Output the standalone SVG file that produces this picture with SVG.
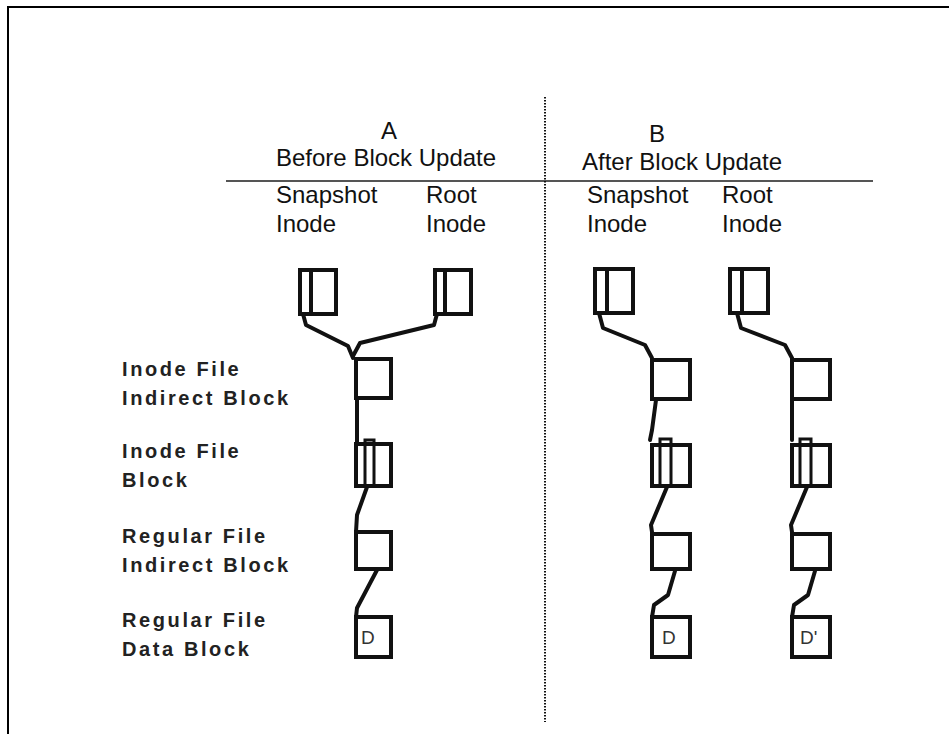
<svg xmlns="http://www.w3.org/2000/svg" width="949" height="734" viewBox="0 0 949 734">
<style>
.hdr{font-family:"Liberation Sans",Arial,sans-serif;font-size:24px;fill:#111}
.lbl{font-family:"Liberation Sans",Arial,sans-serif;font-size:20px;font-weight:bold;letter-spacing:2.6px;fill:#222}
.box{fill:none;stroke:#111;stroke-width:4}
.thin{fill:none;stroke:#111;stroke-width:3}
.con{fill:none;stroke:#111;stroke-width:4;stroke-linejoin:round;stroke-linecap:round}
.d{font-family:"Liberation Sans",Arial,sans-serif;font-size:19px;fill:#333}
</style>
<rect width="949" height="734" fill="#fff"/>
<path d="M8,734 V7 H949" fill="none" stroke="#000" stroke-width="2"/>
<g id="header">
<line x1="226" y1="181" x2="873" y2="181" stroke="#555" stroke-width="2"/>
<line x1="545" y1="97" x2="545" y2="722" stroke="#111" stroke-width="2" stroke-dasharray="1.5 1.5"/>
<text class="hdr" x="389" y="139" text-anchor="middle">A</text>
<text class="hdr" x="276" y="166">Before Block Update</text>
<text class="hdr" x="657" y="142" text-anchor="middle">B</text>
<text class="hdr" x="582" y="170">After Block Update</text>
<text class="hdr" x="276" y="203">Snapshot</text>
<text class="hdr" x="276" y="232">Inode</text>
<text class="hdr" x="426" y="203">Root</text>
<text class="hdr" x="426" y="232">Inode</text>
<text class="hdr" x="587" y="203">Snapshot</text>
<text class="hdr" x="587" y="232">Inode</text>
<text class="hdr" x="722" y="203">Root</text>
<text class="hdr" x="722" y="232">Inode</text>
</g>
<g id="labels">
<text class="lbl" x="122" y="376">Inode File</text>
<text class="lbl" x="122" y="405">Indirect Block</text>
<text class="lbl" x="122" y="458">Inode File</text>
<text class="lbl" x="122" y="487">Block</text>
<text class="lbl" x="122" y="543">Regular File</text>
<text class="lbl" x="122" y="572">Indirect Block</text>
<text class="lbl" x="122" y="627">Regular File</text>
<text class="lbl" x="122" y="656">Data Block</text>
</g>
<g id="connectors">
<path class="con" d="M303,314 L306,325 L348,346 L353,358"/>
<path class="con" d="M437,314 L434,325 L360,343 L353,356"/>
<path class="con" d="M357,399 L357,442"/>
<path class="con" d="M367,487 L357,515 L356,532"/>
<path class="con" d="M377,570 L357,608 L356,617"/>
<path class="con" d="M599,313 L603,328 L645,345 L652,358"/>
<path class="con" d="M656,400 L652,430 L650,440" stroke="#555"/>
<path class="con" d="M667,487 L651,525 L652,532"/>
<path class="con" d="M675,571 L668,595 L654,605 L652,617"/>
<path class="con" d="M737,313 L741,328 L785,345 L792,358"/>
<path class="con" d="M792,400 L792,440"/>
<path class="con" d="M807,487 L791,525 L792,532"/>
<path class="con" d="M815,571 L808,595 L794,605 L792,617"/>
</g>
<g id="a-snapshot-inode"><rect class="box" x="300" y="270" width="36" height="44"/><line class="box" x1="311" y1="270" x2="311" y2="314"/></g>
<g id="a-root-inode"><rect class="box" x="435" y="270" width="36" height="44"/><line class="box" x1="445" y1="270" x2="445" y2="314"/></g>
<g id="a-inode-indirect"><rect class="box" x="356" y="359" width="35" height="39"/></g>
<g id="a-inode-block"><rect class="box" x="356" y="444" width="35" height="42"/><rect class="thin" x="365" y="440" width="9" height="46"/></g>
<g id="a-reg-indirect"><rect class="box" x="356" y="532" width="35" height="37"/></g>
<g id="a-data"><rect class="box" x="356" y="617" width="35" height="40"/><text class="d" x="361" y="644">D</text></g>
<g id="b-snapshot-inode"><rect class="box" x="595" y="269" width="38" height="44"/><line class="box" x1="607" y1="269" x2="607" y2="313"/></g>
<g id="b-root-inode"><rect class="box" x="730" y="269" width="38" height="44"/><line class="box" x1="742" y1="269" x2="742" y2="313"/></g>
<g id="b1-inode-indirect"><rect class="box" x="652" y="360" width="38" height="39"/></g>
<g id="b1-inode-block"><rect class="box" x="652" y="445" width="38" height="41"/><rect class="thin" x="660" y="439" width="11" height="47"/></g>
<g id="b1-reg-indirect"><rect class="box" x="652" y="534" width="38" height="35"/></g>
<g id="b1-data"><rect class="box" x="652" y="617" width="38" height="40"/><text class="d" x="662" y="644">D</text></g>
<g id="b2-inode-indirect"><rect class="box" x="792" y="360" width="38" height="39"/></g>
<g id="b2-inode-block"><rect class="box" x="792" y="445" width="38" height="41"/><rect class="thin" x="800" y="439" width="11" height="47"/></g>
<g id="b2-reg-indirect"><rect class="box" x="792" y="534" width="38" height="35"/></g>
<g id="b2-data"><rect class="box" x="792" y="617" width="38" height="40"/><text class="d" x="800" y="644">D'</text></g>
</svg>
